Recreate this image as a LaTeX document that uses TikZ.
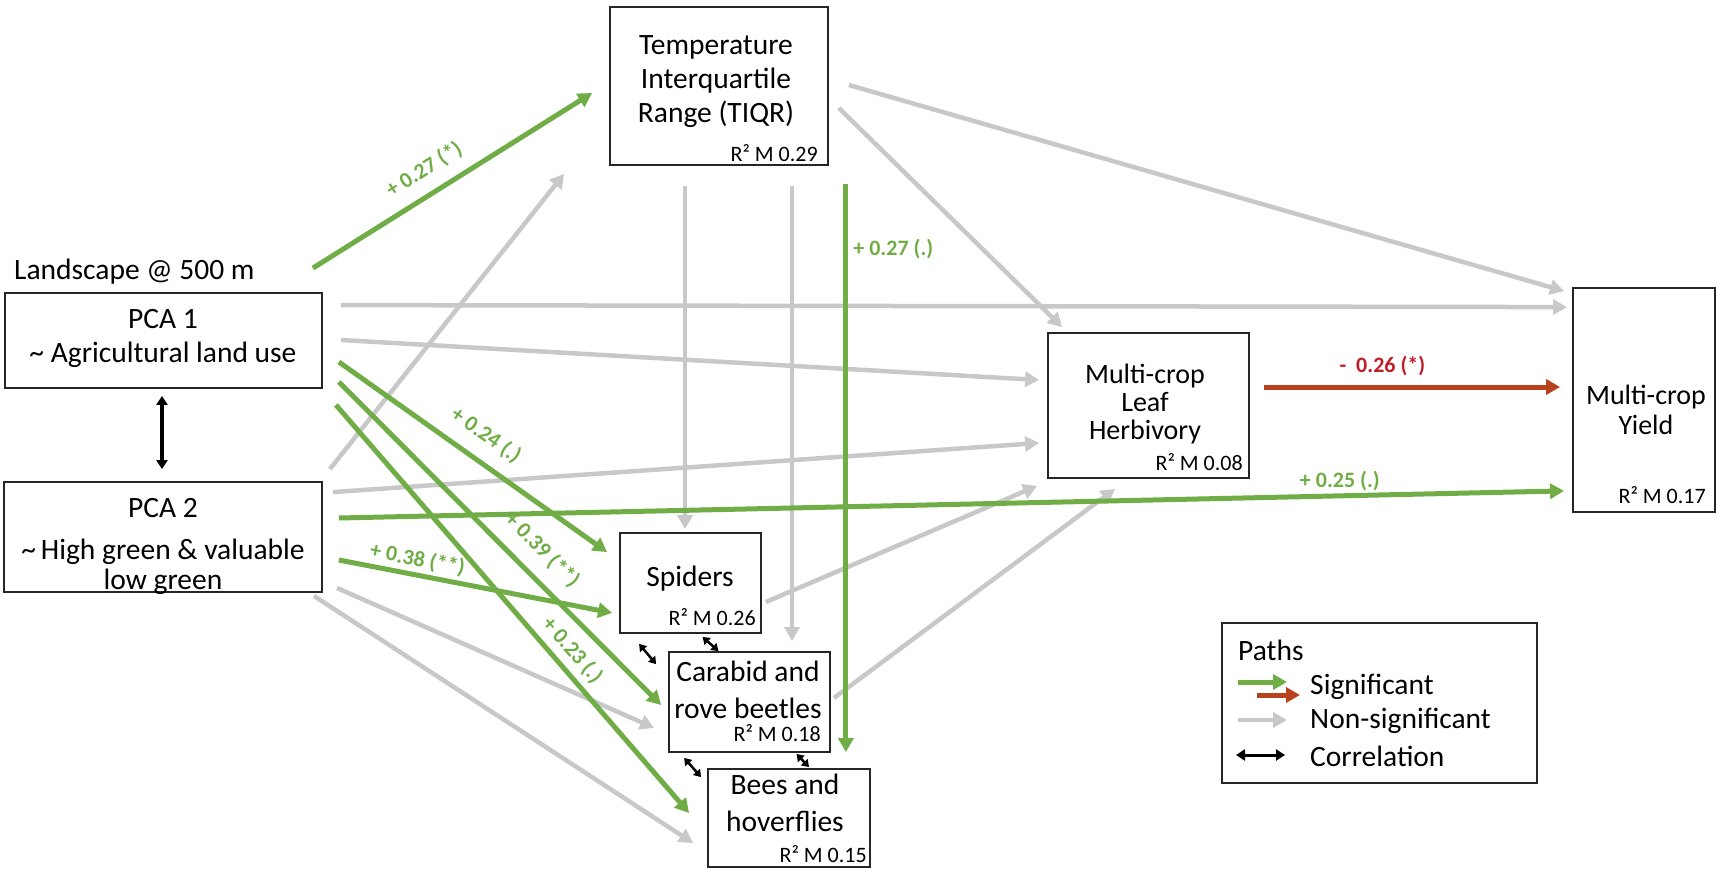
\documentclass[tikz,border=0pt]{standalone}
\usepackage{fontspec}
\setmainfont{Carlito}
\usetikzlibrary{arrows.meta}

\definecolor{sgreen}{RGB}{112,173,71}
\definecolor{sred}{RGB}{185,65,30}
\definecolor{lred}{RGB}{192,30,40}
\definecolor{nsgrey}{RGB}{200,200,200}

\tikzset{
	box/.style={draw=black!85, line width=1.8pt, inner sep=0pt},
	txt/.style={align=center, inner sep=0pt, font=\fontsize{29.5}{34}\selectfont},
	rtwo/.style={anchor=base east, inner sep=0pt, font=\fontsize{22}{24}\selectfont},
	sig/.style={draw=sgreen, line width=5pt, -{Triangle[length=14pt,width=15pt]}},
	sigr/.style={draw=sred, line width=5pt, -{Triangle[length=14pt,width=15pt]}},
	ns/.style={draw=nsgrey, line width=4.5pt, -{Triangle[length=14pt,width=15pt]}},
	corr/.style={draw=black, line width=3pt, {Triangle[length=9pt,width=11pt]}-{Triangle[length=9pt,width=11pt]}},
	smallcorr/.style={draw=black, line width=2.5pt, {Triangle[length=7pt,width=9pt]}-{Triangle[length=7pt,width=9pt]}},
	est/.style={text=sgreen, font=\bfseries\fontsize{22}{24}\selectfont}
}

\begin{document}
\begin{tikzpicture}[x=1pt, y=-1pt]
		\useasboundingbox (0,0) rectangle (1717,869);
		
		%boxes
		\node (tiqr) at (719,86) [box, minimum width=218, minimum height=158]{};
		\node (pca1) at (163.5,340.5) [box, minimum width=317, minimum height=95]{};
		\node (pca2) at (163,537) [box, minimum width=318, minimum height=110]{};
		\node (herb) at (1148.5,405.5) [box, minimum width=201, minimum height=145]{};
		\node (yield) at (1644,400) [box, minimum width=142, minimum height=224]{};
		\node (spiders) at (690.5,583) [box, minimum width=141, minimum height=100]{};
		\node (carabid) at (749.5,702) [box, minimum width=161, minimum height=100]{};
		\node (bees) at (789,818) [box, minimum width=162, minimum height=98]{};
		
		%box texts
		\node (land) at (14,272) [txt, anchor=west]{Landscape @ 500 m};
		\node (tiqrt) at (716,82) [txt]{Temperature\\Interquartile\\Range (TIQR)};
		\node (pca1t) at (163,338) [txt]{PCA 1\\\textasciitilde{} Agricultural land use};
		\node (pca2t) at (163,546) [txt]{PCA 2\\[8pt]\textasciitilde\,High green \& valuable\\[-4pt]low green};
		\node (herbt) at (1145,404) [txt, font=\fontsize{28}{28}\selectfont]{Multi-crop\\Leaf\\Herbivory};
		\node (yieldt) at (1646,410) [txt, font=\fontsize{28}{30}\selectfont]{Multi-crop\\Yield};
		\node (spiderst) at (690,579) [txt]{Spiders};
		\node (carabidt) at (748,690) [txt, font=\fontsize{29.5}{37}\selectfont]{Carabid and\\rove beetles};
		\node (beest) at (785,803) [txt, font=\fontsize{29.5}{37}\selectfont]{Bees and\\hoverflies};
		
		\node (tiqrr) at ([shift={(-11,-4)}]tiqr.south east) [rtwo]{R² M 0.29};
		\node (herbr) at ([shift={(-7,-8)}]herb.south east) [rtwo]{R² M 0.08};
		\node (yieldr) at ([shift={(-10,-9)}]yield.south east) [rtwo]{R² M 0.17};
		\node (spidersr) at ([shift={(-6,-8.5)}]spiders.south east) [rtwo]{R² M 0.26};
		\node (carabidr) at ([shift={(-10,-11)}]carabid.south east) [rtwo]{R² M 0.18};
		\node (beesr) at ([shift={(-4,-5)}]bees.south east) [rtwo]{R² M 0.15};
		
		%non-significant paths
		\draw[ns] ([shift={(18,13)}]pca1.north east) -- ([shift={(-5,20)}]yield.north west);
		\draw[ns] ([shift={(18,-0.5)}]pca1.east) -- ([shift={(-8,-25.5)}]herb.west);
		\draw[ns] ([shift={(7,-12)}]pca2.north east) -- ([shift={(-45,8)}]tiqr.south west);
		\draw[ns] ([shift={(10,11)}]pca2.north east) -- ([shift={(-8,37.5)}]herb.west);
		\draw[ns] ([shift={(14,-5)}]pca2.south east) -- ([shift={(-14,-25)}]carabid.south west);
		\draw[ns] ([shift={(-9,3)}]pca2.south east) -- ([shift={(-14,25)}]bees.west);
		\draw[ns] ([shift={(-34,20)}]tiqr.south) -- ([shift={(-5.5,-3)}]spiders.north);
		\draw[ns] ([shift={(73,20)}]tiqr.south) -- ([shift={(42.5,-10)}]carabid.north);
		\draw[ns] ([shift={(10,22)}]tiqr.east) -- ([shift={(15,-5)}]herb.north west);
		\draw[ns] ([shift={(20,-1)}]tiqr.east) -- ([shift={(-8,4)}]yield.north west);
		\draw[ns] ([shift={(4,19)}]spiders.east) -- ([shift={(-10,7)}]herb.south west);
		\draw[ns] ([shift={(3,-4)}]carabid.east) -- ([shift={(-33.5,10)}]herb.south);
		
		%significant paths
		\draw[sig] ([shift={(-10,-24)}]pca1.north east) -- ([shift={(-17,7)}]tiqr.west)
			node[pos=0.445, sloped, above, est, inner sep=12pt]{+ 0.27 (*)};
		\draw[sig] ([shift={(17,18)}]tiqr.south east) -- ([shift={(-25,-16)}]bees.north east)
			node[pos=0.114, right, est, inner sep=5pt]{+ 0.27 (.)};
		\draw[sig] ([shift={(16,21.5)}]pca1.east) -- ([shift={(-12,20)}]spiders.north west)
			node[pos=0.494, sloped, above, est, inner sep=13pt]{+ 0.24 (.)};
		\draw[sig] ([shift={(16,41.5)}]pca1.east) -- ([shift={(-7,3)}]carabid.west)
			node[pos=0.575, sloped, above, est, inner sep=13pt]{+ 0.39 (**)};
		\draw[sig] ([shift={(13,16)}]pca1.south east) -- ([shift={(-18,-5)}]bees.west)
			node[pos=0.63, sloped, above, est, inner sep=6pt]{+ 0.23 (.)};
		\draw[sig] ([shift={(16,23)}]pca2.east) -- ([shift={(-7,-21)}]spiders.south west)
			node[pos=0.277, sloped, above, est, inner sep=3pt]{+ 0.38 (**)};
		\draw[sig] ([shift={(16,-19)}]pca2.east) -- ([shift={(-8,-22)}]yield.south west)
			node[pos=0.817, above, est, inner sep=3pt]{+ 0.25 (.)};
		\draw[sigr] ([shift={(14,-18.5)}]herb.east) -- ([shift={(-12,-13)}]yield.west)
			node[pos=0.4, above, est, text=lred, inner sep=9pt]{-\ \ 0.26 (*)};
		
		%correlations
		\draw[corr, line width=3.5pt] ([shift={(-1.5,7)}]pca1.south) -- ([shift={(-1,-12)}]pca2.north);
		\draw[smallcorr] ([shift={(20,10)}]spiders.south west) -- ([shift={(-12,13)}]carabid.north west);
		\draw[smallcorr] ([shift={(12,3)}]spiders.south) -- ([shift={(-31,0)}]carabid.north);
		\draw[smallcorr] ([shift={(16,5)}]carabid.south west) -- ([shift={(-6,9)}]bees.north west);
		\draw[smallcorr] ([shift={(47,1)}]carabid.south) -- ([shift={(20,-1)}]bees.north);
		
		%legend
		\node (legend) at (1379.5,703) [box, minimum width=315, minimum height=160]{};
		\node (paths) at (1238,650) [txt, anchor=west]{Paths};
		\node (lsig) at (1310,687) [txt, anchor=west]{Significant};
		\node (lns) at (1310,721) [txt, anchor=west]{Non-significant};
		\node (lcorr) at (1310,756) [txt, anchor=west]{Correlation};
		\draw[sig] ([shift={(-72,-5)}]lsig.west) -- ([shift={(-23,-5)}]lsig.west);
		\draw[sigr] ([shift={(-53,8)}]lsig.west) -- ([shift={(-10,8)}]lsig.west);
		\draw[ns] ([shift={(-72,-1)}]lns.west) -- ([shift={(-23,-1)}]lns.west);
		\draw[corr] ([shift={(-74,-1)}]lcorr.west) -- ([shift={(-25,-1)}]lcorr.west);
\end{tikzpicture}
\end{document}
